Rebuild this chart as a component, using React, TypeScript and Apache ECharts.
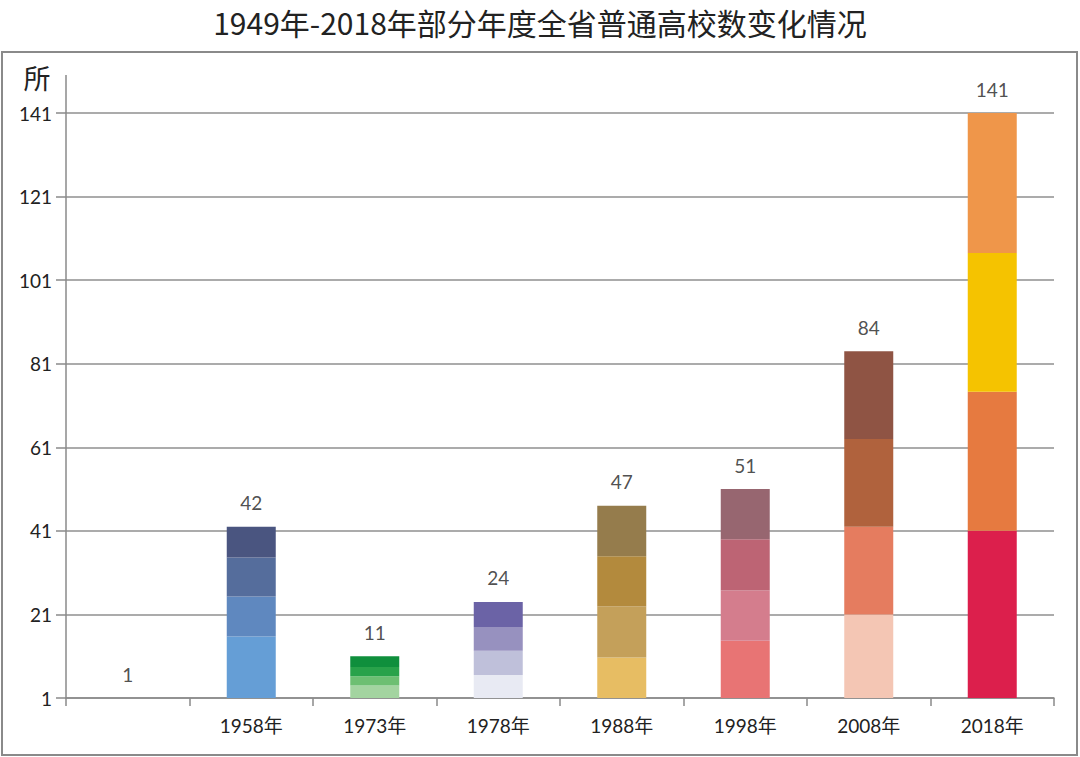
import React, { useEffect, useRef } from "react";
import * as echarts from "echarts";

const categories = ["", "1958年", "1973年", "1978年", "1988年", "1998年", "2008年", "2018年"];
const totals = [1, 42, 11, 24, 47, 51, 84, 141];
// stacked stripes, bottom to top
const layer1 = [1, 15.7, 4, 6.5, 10.7, 14.7, 21, 41];
const layer2 = [0, 9.6, 2.2, 5.8, 12.2, 12, 21, 33.3];
const layer3 = [0, 9.3, 2.2, 5.7, 12, 12.3, 21, 33.2];
const layer4 = [0, 7.4, 2.6, 6, 12.1, 12, 21, 33.5];
const yTicks = { min: 1, max: 141, interval: 20 };

const colors1 = ["#659ed6", "#659ed6", "#a3d4a0", "#e8eaf3", "#e7bd63", "#e87474", "#f4c6b4", "#dc1f4c"];
const colors2 = ["#5f88bf", "#5f88bf", "#6dbf72", "#bfc0da", "#c4a05a", "#d47d8d", "#e57c5f", "#e67a40"];
const colors3 = ["#556d9c", "#556d9c", "#29a24a", "#9791bf", "#b38a3d", "#bd6474", "#b0623d", "#f5c300"];
const colors4 = ["#4a5580", "#4a5580", "#0f8f3c", "#6b63a6", "#957c4c", "#976670", "#8f5444", "#ef964a"];

const FONT = "Lato, 'Noto Sans CJK SC', sans-serif";

export default function App() {
  const ref = useRef<HTMLDivElement>(null);
  useEffect(() => {
    if (!ref.current) return;
    const chart = echarts.init(ref.current, null, { renderer: "svg" });
    const layer = (vals: number[], cols: string[]) => ({
      type: "bar",
      stack: "total",
      barWidth: 49,
      data: vals.map((v, i) => ({ value: v, itemStyle: { color: cols[i] } })),
    });
    chart.setOption({
      animation: false,
      backgroundColor: "#ffffff",
      title: {
        text: "1949年-2018年部分年度全省普通高校数变化情况",
        left: "center",
        top: 2,
        textStyle: { fontFamily: "'Noto Sans CJK SC', sans-serif", fontSize: 30, fontWeight: "normal", color: "#222" },
      },
      grid: { left: 66, right: 26, top: 113, bottom: 59, containLabel: false },
      xAxis: {
        type: "category",
        data: categories,
        axisLine: { lineStyle: { color: "#8a8a8a", width: 1.5 } },
        axisTick: { show: true, length: 8, lineStyle: { color: "#8a8a8a", width: 1.5 } },
        axisLabel: { fontFamily: FONT, fontSize: 19, color: "#222", margin: 18 },
      },
      yAxis: {
        type: "value",
        min: yTicks.min,
        max: yTicks.max,
        interval: yTicks.interval,
        axisLine: { show: true, lineStyle: { color: "#8a8a8a", width: 1.5 } },
        axisTick: { show: true, length: 10, lineStyle: { color: "#8a8a8a", width: 1.5 } },
        axisLabel: { fontFamily: FONT, fontSize: 19, color: "#222", margin: 14 },
        splitLine: { show: true, lineStyle: { color: "#8f8f8f", width: 1.5 } },
      },
      series: [
        layer(layer1, colors1),
        layer(layer2, colors2),
        layer(layer3, colors3),
        layer(layer4, colors4),
        {
          type: "scatter",
          data: totals,
          symbolSize: 1,
          itemStyle: { color: "rgba(0,0,0,0)" },
          label: {
            show: true,
            position: "top",
            distance: 14,
            fontFamily: FONT,
            fontSize: 19,
            color: "#222",
          },
          z: 10,
        },
      ],
      graphic: [
        {
          type: "rect",
          shape: { x: 2, y: 52, width: 1075, height: 703 },
          style: { fill: "none", stroke: "#8a8a8a", lineWidth: 2 },
          silent: true,
        },
        {
          type: "line",
          shape: { x1: 66, y1: 75, x2: 66, y2: 113 },
          style: { stroke: "#8a8a8a", lineWidth: 1.5 },
          silent: true,
        },
        {
          type: "text",
          x: 37,
          y: 77,
          style: {
            text: "所",
            fontFamily: "'Noto Sans CJK SC', sans-serif",
            fontSize: 27,
            fill: "#222",
            align: "center",
            verticalAlign: "middle",
          },
          silent: true,
        },
      ],
    });
    return () => chart.dispose();
  }, []);
  return (
    <div
      ref={ref}
      style={{ position: "absolute", left: 0, top: 0, width: 1080, height: 757 }}
    />
  );
}
